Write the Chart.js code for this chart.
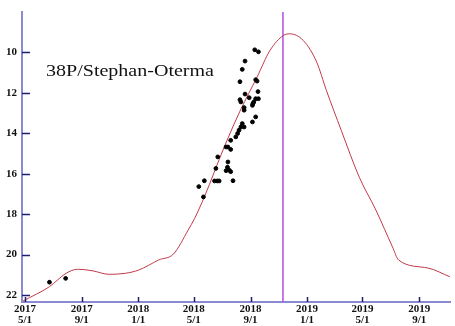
<!DOCTYPE html>
<html>
<head>
<meta charset="utf-8">
<script src="https://cdn.jsdelivr.net/npm/chart.js@4/dist/chart.umd.min.js"></script>
<style>
  body{margin:0;background:#fff}
  #wrap{width:455px;height:326px}
</style>
</head>
<body>
<div id="wrap"><canvas id="c" width="455" height="326"></canvas></div>
<script>
// courbe de lumière calculée
const curveDates = ['2017-04-27','2017-06-23','2017-07-29','2017-08-23','2017-09-23','2017-10-30','2017-12-04',
  '2018-01-02','2018-01-23','2018-02-14','2018-03-18','2018-04-19','2018-05-03','2018-05-24','2018-07-06',
  '2018-08-10','2018-09-15','2018-10-13','2018-11-11','2018-11-25','2018-12-24','2019-01-22','2019-02-12',
  '2019-03-16','2019-04-24','2019-05-30','2019-07-05','2019-07-18','2019-09-20','2019-11-06'];
const curveMags = [22.3,21.59,20.93,20.73,20.8,20.98,20.93,
  20.77,20.54,20.27,19.98,18.79,18.21,17.15,14.68,
  12.86,11.22,9.9,9.16,9.08,9.41,10.48,11.88,
  13.85,16.17,17.8,19.63,20.27,20.67,21.1];

// observations
const obsDates = ['2017-06-23','2017-07-28','2018-05-12','2018-05-22','2018-05-24','2018-06-15','2018-06-21',
  '2018-06-25','2018-07-25','2018-06-18','2018-06-22','2018-07-14','2018-07-13','2018-07-10','2018-07-17',
  '2018-07-20','2018-07-10','2018-07-14','2018-07-20','2018-07-20','2018-07-31','2018-08-04','2018-08-07',
  '2018-08-11','2018-08-18','2018-08-14','2018-09-05','2018-09-12','2018-08-18','2018-08-11','2018-09-05',
  '2018-09-08','2018-08-09','2018-08-29','2018-09-12','2018-09-18','2018-09-06','2018-08-18','2018-08-20',
  '2018-09-17','2018-08-09','2018-09-12','2018-09-15','2018-08-14','2018-08-20','2018-09-10','2018-09-18'];
const obsMags = [21.37,21.18,16.64,17.15,16.35,16.36,16.36,
  16.36,16.35,15.74,15.17,15.42,15.68,15.85,15.83,
  15.9,14.68,14.68,14.8,14.35,14.18,14.01,13.85,
  13.69,13.69,13.52,13.44,13.19,12.86,12.45,12.62,
  12.45,12.34,12.24,12.29,12.29,12.53,12.73,12.06,
  11.94,11.45,11.35,11.42,10.84,10.43,9.87,9.97];

const perihelion = '2018-11-10';
const tickDates = ['2017-05-01','2017-09-01','2018-01-01','2018-05-01','2018-09-01','2019-01-01','2019-05-01','2019-09-01'];
const tickLabels = [['2017','5/1'],['2017','9/1'],['2018','1/1'],['2018','5/1'],['2018','9/1'],['2019','1/1'],['2019','5/1'],['2019','9/1']];
const magTicks = [10,12,14,16,18,20,22];
const title = '38P/Stephan-Oterma';

// jours depuis 2017-05-01
const t0 = Date.UTC(2017,4,1);
const day = s => { const [y,m,d] = s.split('-').map(Number); return (Date.UTC(y,m-1,d)-t0)/86400000; };

const X_MIN = -6.4, X_MAX = 919.3, Y_MIN = 8.0, Y_MAX = 22.35;
const tickFont = {family:'Liberation Serif', size:11, weight:'bold', lineHeight:0.95};

const innerTicks = {
  id:'innerTicks',
  afterDraw(chart){
    const {ctx, chartArea:a, scales:{x, y}} = chart;
    ctx.save();
    ctx.strokeStyle = '#1e1e6e'; ctx.lineWidth = 1.5;
    magTicks.forEach(v=>{ const py = Math.round(y.getPixelForValue(v))+0.5;
      ctx.beginPath(); ctx.moveTo(a.left, py); ctx.lineTo(a.left+8, py); ctx.stroke(); });
    tickDates.forEach(d=>{ const px = Math.round(x.getPixelForValue(day(d)))+0.5;
      ctx.beginPath(); ctx.moveTo(px, a.bottom); ctx.lineTo(px, a.bottom-5); ctx.stroke(); });
    // titre dans la zone du graphe, étiré à la largeur de l'original
    ctx.fillStyle = '#111';
    ctx.font = '16px "Liberation Serif"';
    const w = ctx.measureText(title).width;
    ctx.translate(46, 76); ctx.scale(168/w, 1);
    ctx.fillText(title, 0, 0);
    ctx.restore();
  }
};

new Chart(document.getElementById('c'), {
  data:{
    datasets:[
      { type:'line', data: curveDates.map((d,i)=>({x:day(d), y:curveMags[i]})),
        borderColor:'#c03a48', borderWidth:1, pointRadius:0, cubicInterpolationMode:'monotone', order:2 },
      { type:'scatter', data: obsDates.map((d,i)=>({x:day(d), y:obsMags[i]})),
        backgroundColor:'#000', borderColor:'#000', pointRadius:1.9, order:1 },
      { type:'line', data:[{x:day(perihelion), y:Y_MIN},{x:day(perihelion), y:Y_MAX}],
        borderColor:'#b44ee0', borderWidth:1.5, pointRadius:0, order:3 }
    ]
  },
  options:{
    responsive:false, animation:false,
    layout:{padding:{top:12, right:0, left:0, bottom:0}},
    plugins:{legend:{display:false}, tooltip:{enabled:false}},
    scales:{
      x:{ type:'linear', min:X_MIN, max:X_MAX,
        afterBuildTicks: s => { s.ticks = tickDates.map(d=>({value:day(d)})); },
        afterFit: s => { s.height = 24; },
        grid:{display:false, drawTicks:false},
        border:{color:'#8a8ad0', width:2},
        ticks:{ font:tickFont, color:'#111', padding:2, maxRotation:0, autoSkip:false,
          callback:(v,i)=>tickLabels[i] }
      },
      y:{ type:'linear', reverse:true, min:Y_MIN, max:Y_MAX,
        afterBuildTicks: s => { s.ticks = magTicks.map(v=>({value:v})); },
        afterFit: s => { s.width = 22; },
        grid:{display:false, drawTicks:false},
        border:{color:'#8a8ad0', width:2},
        ticks:{ font:{family:'Liberation Serif', size:11, weight:'bold'}, color:'#111', padding:5 }
      }
    }
  },
  plugins:[innerTicks]
});
</script>
</body>
</html>
